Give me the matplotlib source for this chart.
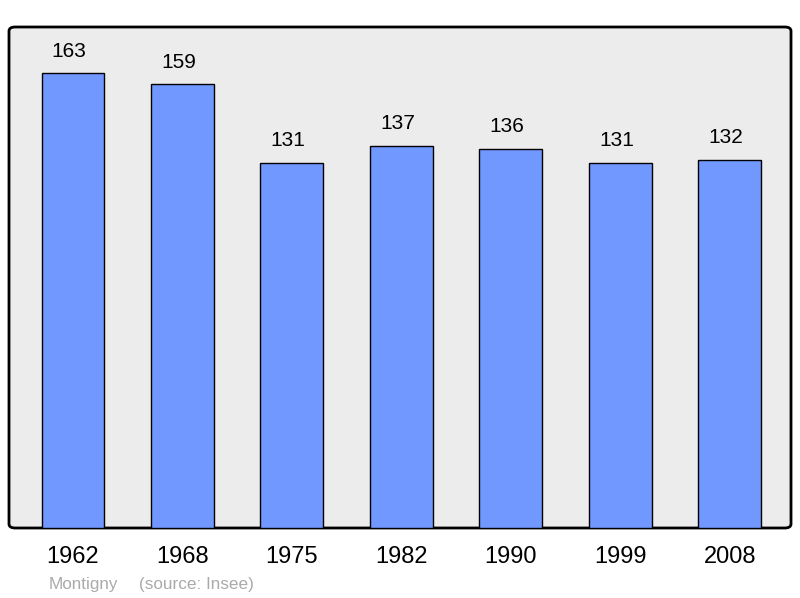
import matplotlib
matplotlib.use("Agg")
import matplotlib.pyplot as plt
from matplotlib.patches import FancyBboxPatch

plt.rcParams['font.family'] = ['Liberation Sans', 'DejaVu Sans']

years = ['1962', '1968', '1975', '1982', '1990', '1999', '2008']
population = [163, 159, 131, 137, 136, 131, 132]

fig = plt.figure(figsize=(8, 5.98), dpi=100)
ax = fig.add_axes([9/800, 70/598, 782/800, 501/598])

# rounded grey frame behind the bars
frame = FancyBboxPatch((0, 0), 1, 1, boxstyle="round,pad=0,rounding_size=0.008",
                       transform=ax.transAxes, facecolor='#ececec', edgecolor='black',
                       linewidth=2, clip_on=False, zorder=0)
ax.add_patch(frame)
ax.set_facecolor('none')
for s in ax.spines.values():
    s.set_visible(False)

x = list(range(len(years)))
ax.bar(x, population, width=0.575, color='#7098ff', edgecolor='black', linewidth=1, zorder=2)
for xi, v in zip(x, population):
    ax.annotate(str(v), (xi, v), xytext=(-2.7, 15.8), textcoords='offset points',
                ha='center', va='center', fontsize=15)

ax.set_xlim(-0.585, 6.56)
ax.set_ylim(0, 179.6)
ax.set_yticks([])
ax.set_xticks(x)
ax.set_xticklabels(years, fontsize=17)
ax.tick_params(axis='x', length=0, pad=13)

fig.text(49/800, 1 - 584/598, 'Montigny', color='#aaaaaa',
         fontsize=12.3, ha='left', va='center')
fig.text(139/800, 1 - 584/598, '(source: Insee)', color='#aaaaaa',
         fontsize=12.3, ha='left', va='center')

fig.savefig('out.png', dpi=100)
